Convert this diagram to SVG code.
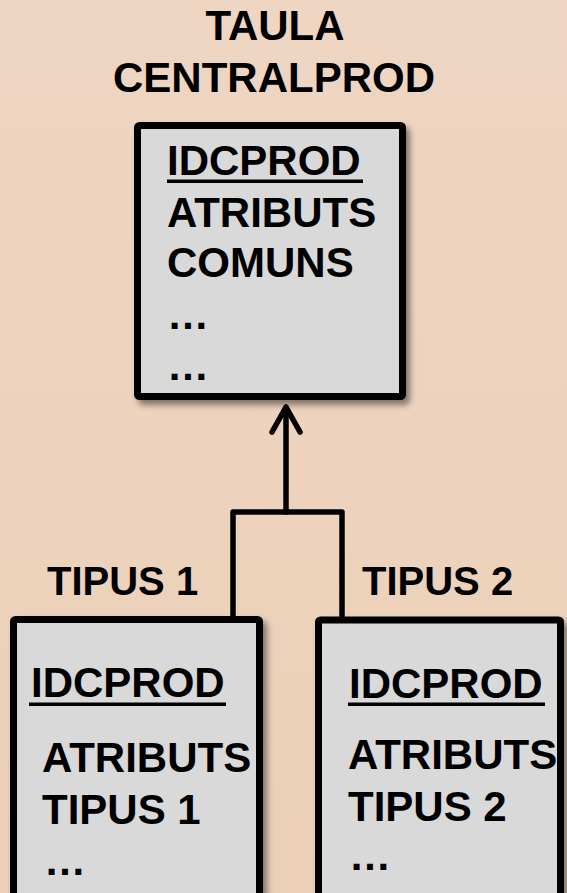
<svg xmlns="http://www.w3.org/2000/svg" width="567" height="893" viewBox="0 0 567 893">
  <defs>
    <filter id="shadow" x="-10%" y="-10%" width="130%" height="130%">
      <feDropShadow dx="4" dy="5" stdDeviation="3" flood-color="#000" flood-opacity="0.45"/>
    </filter>
    <linearGradient id="bg" x1="0" y1="0" x2="0" y2="1">
      <stop offset="0" stop-color="#EFD6C2"/>
      <stop offset="1" stop-color="#EBCFB8"/>
    </linearGradient>
  </defs>
  <style>
    .t { font-family: "Liberation Sans", Arial, sans-serif; font-weight: bold; font-size: 42px; fill: #000; }
    .lbl { font-family: "Liberation Sans", Arial, sans-serif; font-weight: bold; font-size: 40px; fill: #000; }
    .box { fill: #D9D9D9; stroke: #000; stroke-width: 7; filter: url(#shadow); }
    .conn { fill: none; stroke: #000; stroke-width: 5.5; stroke-linecap: round; stroke-linejoin: round; }
  </style>
  <rect width="567" height="893" fill="url(#bg)"/>

  <g id="title">
    <text class="t" x="275" y="40" text-anchor="middle">TAULA</text>
    <text class="t" x="274" y="92" text-anchor="middle">CENTRALPROD</text>
  </g>

  <g id="connectors">
    <path class="conn" d="M233,617 V512 H342 V617"/>
    <path class="conn" d="M286,512 V408"/>
    <path class="conn" d="M272,432 L286,407 L300,432"/>
  </g>

  <g id="centralprod">
    <rect class="box" x="137.5" y="125.5" width="265" height="271" rx="2"/>
    <text class="t" x="167" y="175">IDCPROD</text>
    <rect x="167" y="179.5" width="196" height="3.5" fill="#000"/>
    <text class="t" x="167" y="227">ATRIBUTS</text>
    <text class="t" x="167" y="277">COMUNS</text>
    <text class="t" x="167" y="329">…</text>
    <text class="t" x="167" y="380">…</text>
  </g>

  <g id="tipus1">
    <text class="lbl" x="47" y="595">TIPUS 1</text>
    <rect class="box" x="13.5" y="619.5" width="246" height="300" rx="2"/>
    <text class="t" x="31" y="697">IDCPROD</text>
    <rect x="29" y="702.5" width="197" height="3.5" fill="#000"/>
    <text class="t" x="42" y="772">ATRIBUTS</text>
    <text class="t" x="42" y="824">TIPUS 1</text>
    <text class="t" x="44" y="875">…</text>
  </g>

  <g id="tipus2">
    <text class="lbl" x="362" y="595">TIPUS 2</text>
    <rect class="box" x="318.5" y="620" width="242" height="300" rx="2"/>
    <text class="t" x="349" y="698">IDCPROD</text>
    <rect x="348" y="702.5" width="197" height="3.5" fill="#000"/>
    <text class="t" x="348" y="769">ATRIBUTS</text>
    <text class="t" x="348" y="821">TIPUS 2</text>
    <text class="t" x="349" y="870">…</text>
  </g>
</svg>
